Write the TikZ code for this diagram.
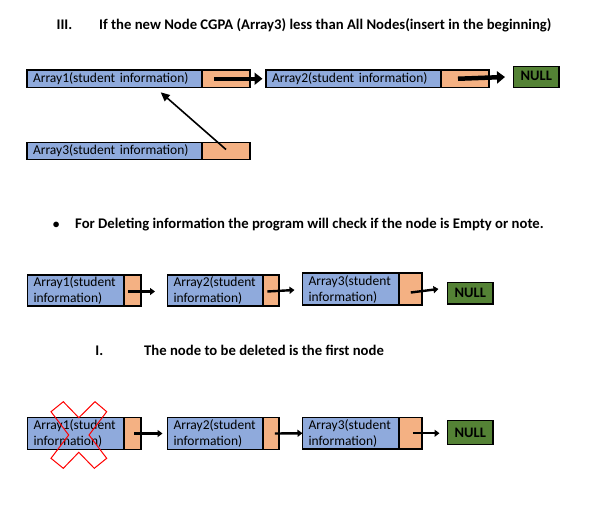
\documentclass[tikz,border=0pt]{standalone}
\usepackage{fontspec}
\setmainfont{Carlito}
\usetikzlibrary{arrows.meta}
\definecolor{cellblue}{HTML}{8FAADC}
\definecolor{cellorange}{HTML}{F4B183}
\definecolor{nullgreen}{HTML}{548235}
\tikzset{
  cell/.style={draw=black, line width=1.8pt, rectangle, anchor=north west, inner sep=0pt, outer sep=0pt},
  bluecell/.style={cell, fill=cellblue, font=\fontsize{13.5}{16}\selectfont, align=left, inner xsep=6pt},
  orangecell/.style={cell, fill=cellorange},
  nullcell/.style={cell, fill=nullgreen, font=\bfseries\fontsize{14.5}{16}\selectfont},
  heading/.style={font=\bfseries\fontsize{14.7}{17}\selectfont, anchor=west, inner sep=0pt},
  bigarrow/.style={line width=4.5pt, -{Triangle[length=8pt,width=12pt]}},
  smallarrow/.style={line width=2.4pt, -{Triangle[length=5pt,width=7pt]}},
  thinarrow/.style={line width=1.6pt, -{Triangle[length=9pt,width=8pt]}},
  crossmark/.style={draw=red, line width=1pt, line join=miter}
}
\begin{document}
\begin{tikzpicture}[x=1pt,y=-1pt]
\useasboundingbox (0,0) rectangle (597,515);
% headings
\node[heading] (h1n) at (56.4,25) {III.};
\node[heading] (h1) at (99,25) {If the new Node CGPA (Array3) less than All Nodes(insert in the beginning)};
\node[heading] (h2n) at (52.5,225) {$\bullet$};
\node[heading] (h2) at (75,225) {For Deleting information the program will check if the node is Empty or note.};
\node[heading] (h3n) at (95.2,350.7) {I.};
\node[heading] (h3) at (144,350.7) {The node to be deleted is the first node};

% ---------- row 1 ----------
\node[bluecell, minimum width=175pt, minimum height=17.5pt, text width=163pt] (b1) at (27,70) {Array1(student information)};
\node[orangecell, minimum width=48pt, minimum height=17.5pt] (o1) at (202,70) {};
\node[bluecell, minimum width=175pt, minimum height=17.5pt, text width=163pt] (b2) at (266,70) {Array2(student information)};
\node[orangecell, minimum width=48pt, minimum height=17.5pt] (o2) at (441,70) {};
\node[nullcell, minimum width=45.5pt, minimum height=21pt] (n1) at (513.5,66.5) {\raisebox{3pt}{NULL}};
\node[bluecell, minimum width=175pt, minimum height=17pt, text width=163pt] (b3) at (27,142.5) {Array3(student information)};
\node[orangecell, minimum width=48pt, minimum height=17pt] (o3) at (202,142.5) {};
\coordinate (t3) at (160.7,92.3);
\draw[bigarrow] ([xshift=12pt]o1.west) -- ([xshift=-3.5pt]b2.west);
\draw[bigarrow] ([xshift=17pt]o2.west) -- ([xshift=-8.5pt]n1.west);
\draw[thinarrow] ([xshift=24pt,yshift=-7pt]o3.north west) -- (t3);

% ---------- row 2 ----------
\node[bluecell, minimum width=96.5pt, minimum height=31pt, text width=85pt] (c1) at (27.5,275) {Array1(student\\information)};
\node[orangecell, minimum width=17pt, minimum height=31pt] (p1) at (124,275) {};
\node[bluecell, minimum width=96pt, minimum height=31pt, text width=85pt] (c2) at (167.5,275) {Array2(student\\information)};
\node[orangecell, minimum width=15.5pt, minimum height=31pt] (p2) at (263.3,275) {};
\node[bluecell, minimum width=97pt, minimum height=32pt, text width=85pt] (c3) at (302.5,273) {Array3(student\\information)};
\node[orangecell, minimum width=23pt, minimum height=32pt] (p3) at (399.3,273) {};
\node[nullcell, minimum width=45.5pt, minimum height=21.5pt] (n2) at (447.5,282.5) {NULL};
\draw[smallarrow] ([xshift=4pt,yshift=-1pt]p1.west) -- ([xshift=-12.5pt,yshift=-1pt]c2.west);
\draw[smallarrow] ([xshift=4pt,yshift=-1pt]p2.west) -- ([xshift=-8pt,yshift=-1pt]c3.west);
\draw[smallarrow] ([xshift=11.5pt,yshift=-3.5pt]p3.west) -- ([xshift=-9pt]p3.west -| n2.west);

% ---------- row 3 ----------
\node[bluecell, minimum width=96.5pt, minimum height=32pt, text width=85pt] (d1) at (27.5,417.5) {Array1(student\\information)};
\node[orangecell, minimum width=17pt, minimum height=32pt] (q1) at (124,417.5) {};
\node[bluecell, minimum width=96pt, minimum height=32pt, text width=85pt] (d2) at (167.5,417.5) {Array2(student\\information)};
\node[orangecell, minimum width=15.5pt, minimum height=32pt] (q2) at (263.3,417.5) {};
\node[bluecell, minimum width=97pt, minimum height=31.5pt, text width=85pt] (d3) at (302.5,417.5) {Array3(student\\information)};
\node[orangecell, minimum width=23pt, minimum height=31.5pt] (q3) at (399.3,417.5) {};
\node[nullcell, minimum width=45.5pt, minimum height=24pt] (n3) at (447.5,420.5) {NULL};
\draw[smallarrow] ([xshift=10pt]q1.west) -- ([xshift=-5pt]d2.west);
\draw[smallarrow] ([xshift=11.5pt]q2.west) -- (d3.west);
\draw[smallarrow] ([xshift=13.5pt]q3.west) -- ([xshift=-8pt]q3.west -| n3.west);

% red cross over the deleted node
\draw[crossmark] (63.3,401.7) -- (78.8,417.7) -- (95,401.7) -- (106.7,411.7) -- (89,435)
  -- (106.7,458.3) -- (94.3,468.3) -- (78.8,452.3) -- (63.3,468.3) -- (51,458.3)
  -- (68.7,435) -- (51,411.7) -- cycle;
\end{tikzpicture}
\end{document}
